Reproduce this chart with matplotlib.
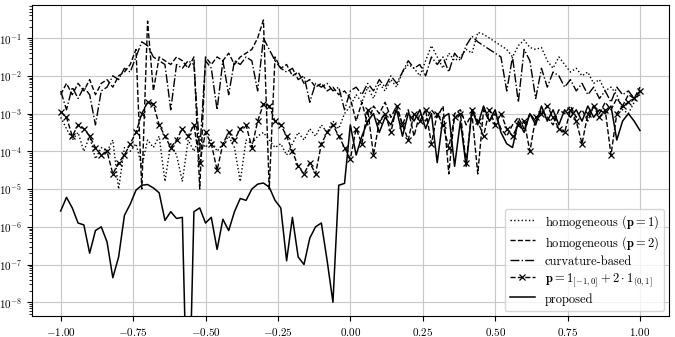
import matplotlib
matplotlib.use("Agg")
import matplotlib.pyplot as plt
import numpy as np

plt.rcParams["font.family"] = "serif"
plt.rcParams["font.serif"] = ["cmr10", "DejaVu Serif"]
plt.rcParams["mathtext.fontset"] = "cm"
plt.rcParams["axes.formatter.use_mathtext"] = True

# sample positions, step 0.02 on [-1, 1]
x = np.linspace(-1.0, 1.0, 101)

# log10 of the error, left half then right half
log_hom_p1 = [
  -3.1, -3.4, -3.7, -3.5, -4.0, -3.6, -4.2, -3.9, -4.0, -3.7,
  -5.0, -3.9, -4.0, -3.8, -4.4, -3.7, -3.9, -3.6, -4.8, -3.8,
  -4.1, -4.8, -3.7, -4.0, -3.6, -3.9, -3.7, -4.0, -3.8, -3.6,
  -3.9, -4.8, -3.7, -3.8, -3.6, -3.5, -3.7, -3.9, -3.8, -4.1,
  -3.8, -3.5, -3.7, -3.4, -3.6, -3.3, -3.5, -3.2, -3.4, -3.0,
  -2.8, -2.5, -2.7, -2.3, -2.6, -2.2, -2.4, -2.1, -2.3, -1.9,
  -1.7, -1.8, -2.0, -1.6, -1.2, -1.5, -1.8, -1.4, -1.6, -1.5,
  -1.3, -1.4, -0.85, -0.9, -1.0, -1.1, -1.2, -1.3, -1.5, -1.2,
  -1.05, -1.25, -1.3, -1.25, -1.6, -1.8, -1.5, -1.7, -1.9, -1.8,
  -2.0, -1.9, -2.2, -2.1, -2.4, -2.3, -2.5, -2.9, -3.0, -2.7,
  -2.4,
]
log_hom_p2 = [
  -2.5, -2.2, -2.5, -2.2, -2.4, -2.1, -2.5, -2.2, -2.1, -2.3,
  -2.0, -1.9, -1.7, -1.3, -5.0, -0.55, -2.4, -1.5, -1.6, -1.7,
  -1.5, -1.6, -1.8, -1.5, -5.0, -1.5, -1.7, -1.5, -1.6, -1.4,
  -1.7, -1.5, -1.4, -1.3, -1.0, -0.52, -5.0, -1.5, -1.8, -1.7,
  -2.0, -1.9, -2.2, -2.1, -2.3, -2.2, -2.4, -2.3, -2.5, -2.4,
  -2.6, -3.2, -2.7, -3.3, -2.8, -3.0, -2.7, -3.1, -2.8, -3.3,
  -2.9, -3.6, -3.0, -3.2, -2.9, -3.1, -2.8, -4.6, -3.0, -2.9,
  -3.3, -3.0, -4.6, -2.9, -3.2, -3.0, -3.4, -3.6, -3.3, -3.1,
  -3.4, -3.0, -3.2, -2.9, -3.1, -3.3, -2.9, -3.0, -2.8, -3.1,
  -2.9, -3.2, -2.8, -3.0, -2.7, -2.9, -2.6, -2.8, -2.5, -2.6,
  -2.3,
]
log_curvature = [
  -2.4, -2.9, -2.3, -2.6, -2.3, -2.5, -3.3, -2.4, -2.3, -2.0,
  -2.1, -1.8, -1.9, -1.5, -1.1, -1.2, -1.5, -1.6, -1.7, -2.9,
  -1.7, -1.8, -1.6, -1.7, -4.0, -1.6, -1.8, -2.9, -1.6, -2.5,
  -1.6, -1.7, -1.5, -1.6, -2.4, -1.0, -1.3, -1.6, -1.8, -1.9,
  -1.8, -2.1, -2.0, -2.7, -2.2, -2.3, -2.2, -2.4, -2.3, -2.9,
  -2.4, -2.3, -2.5, -2.2, -2.4, -2.1, -2.3, -2.0, -2.2, -1.9,
  -1.6, -1.8, -1.7, -2.0, -1.5, -1.7, -1.5, -1.9, -1.4, -1.6,
  -1.2, -0.95, -1.1, -1.2, -1.3, -1.4, -1.5, -2.4, -1.5, -2.7,
  -1.3, -1.6, -2.6, -1.8, -2.3, -1.9, -2.0, -2.3, -2.1, -2.4,
  -2.2, -2.5, -2.3, -2.6, -2.4, -2.7, -2.3, -2.5, -2.4, -2.6,
  -2.5,
]
log_piecewise = [
  -2.95, -3.1, -3.6, -3.3, -3.4, -3.6, -3.9, -4.1, -4.0, -4.6,
  -4.3, -4.1, -3.8, -3.5, -3.0, -2.7, -2.75, -3.3, -3.6, -3.9,
  -3.7, -3.4, -3.6, -3.3, -4.3, -3.5, -3.8, -4.5, -3.8, -3.5,
  -3.7, -3.4, -3.3, -3.9, -3.2, -2.75, -2.8, -3.2, -3.3, -3.6,
  -4.0, -4.4, -4.6, -4.3, -4.6, -3.8, -3.5, -3.3, -3.6, -3.9,
  -4.2, -3.4, -3.8, -2.9, -4.1, -3.2, -3.0, -3.5, -2.8, -3.3,
  -3.7, -3.0, -3.2, -2.9, -3.8, -3.0, -3.3, -3.9, -3.1, -3.0,
  -4.3, -2.9, -3.2, -3.6, -2.9, -3.3, -3.0, -3.4, -3.6, -3.3,
  -3.2, -4.0, -3.1, -3.0, -2.8, -3.1, -3.4, -3.5, -2.9, -3.2,
  -3.8, -3.0, -2.8, -3.1, -2.9, -4.1, -3.0, -2.8, -2.7, -2.6,
  -2.4,
]
log_proposed = [
  -5.58, -5.22, -5.5, -5.9, -5.95, -6.7, -6.1, -6.0, -6.4, -7.35,
  -6.8, -5.7, -5.4, -5.03, -4.9, -4.88, -4.97, -5.1, -5.83, -5.6,
  -5.78, -5.75, -12.0, -5.6, -5.5, -5.9, -5.75, -6.6, -5.8, -6.1,
  -5.6, -5.25, -5.3, -5.0, -4.87, -4.84, -4.95, -5.3, -5.5, -6.9,
  -5.75, -6.8, -7.0, -6.3, -6.0, -5.9, -6.9, -8.0, -4.9, -4.85,
  -3.3, -4.1, -3.6, -3.2, -3.0, -3.5, -3.1, -3.3, -2.9, -3.6,
  -3.0, -3.2, -2.9, -3.4, -3.0, -4.3, -3.1, -3.0, -4.4, -3.2,
  -4.4, -2.9, -3.3, -2.8, -3.2, -2.9, -3.5, -3.8, -3.9, -3.2,
  -3.5, -3.0, -3.3, -2.8, -3.2, -2.9, -3.3, -2.9, -3.1, -2.9,
  -3.2, -2.8, -3.1, -2.9, -3.0, -2.8, -3.7, -3.2, -3.0, -3.2,
  -3.45,
]

labels = [
  r"homogeneous ($\mathbf{p} = \mathbf{1}$)",
  r"homogeneous ($\mathbf{p} = \mathbf{2}$)",
  "curvature-based",
  r"$\mathbf{p} = \mathbf{1}_{[-1,0]} + 2 \cdot \mathbf{1}_{(0,1]}$",
  "proposed",
]

fig = plt.figure(figsize=(6.75, 3.37), dpi=100)
ax = fig.add_axes([0.047, 0.062, 0.944, 0.923])

lw = 1.0
ax.plot(x, 10.0 ** np.array(log_hom_p1), color="k", ls=":", lw=lw, label=labels[0])
ax.plot(x, 10.0 ** np.array(log_hom_p2), color="k", ls="--", lw=lw, label=labels[1])
ax.plot(x, 10.0 ** np.array(log_curvature), color="k", ls="-.", lw=lw, label=labels[2])
ax.plot(x, 10.0 ** np.array(log_piecewise), color="k", ls="--", lw=lw,
        marker="x", markersize=4, markeredgewidth=0.9, label=labels[3])
ax.plot(x, 10.0 ** np.array(log_proposed), color="k", ls="-", lw=1.1, label=labels[4])

ax.set_yscale("log")
ax.set_xlim(-1.1, 1.1)
ax.set_ylim(4.3e-9, 0.75)
ax.set_xticks([-1.0, -0.75, -0.5, -0.25, 0.0, 0.25, 0.5, 0.75, 1.0])
ax.xaxis.set_major_formatter(matplotlib.ticker.FormatStrFormatter(r"$%.2f$"))
ax.set_yticks([10.0 ** k for k in range(-8, 0)])
ax.tick_params(labelsize=8)
ax.grid(True, which="major", color="#c8c8c8", lw=0.8)
ax.legend(loc="lower right", fontsize=9, handlelength=2.0,
          handleheight=1.4, labelspacing=0.2, borderaxespad=0.4)

fig.savefig("out.png", dpi=100)
